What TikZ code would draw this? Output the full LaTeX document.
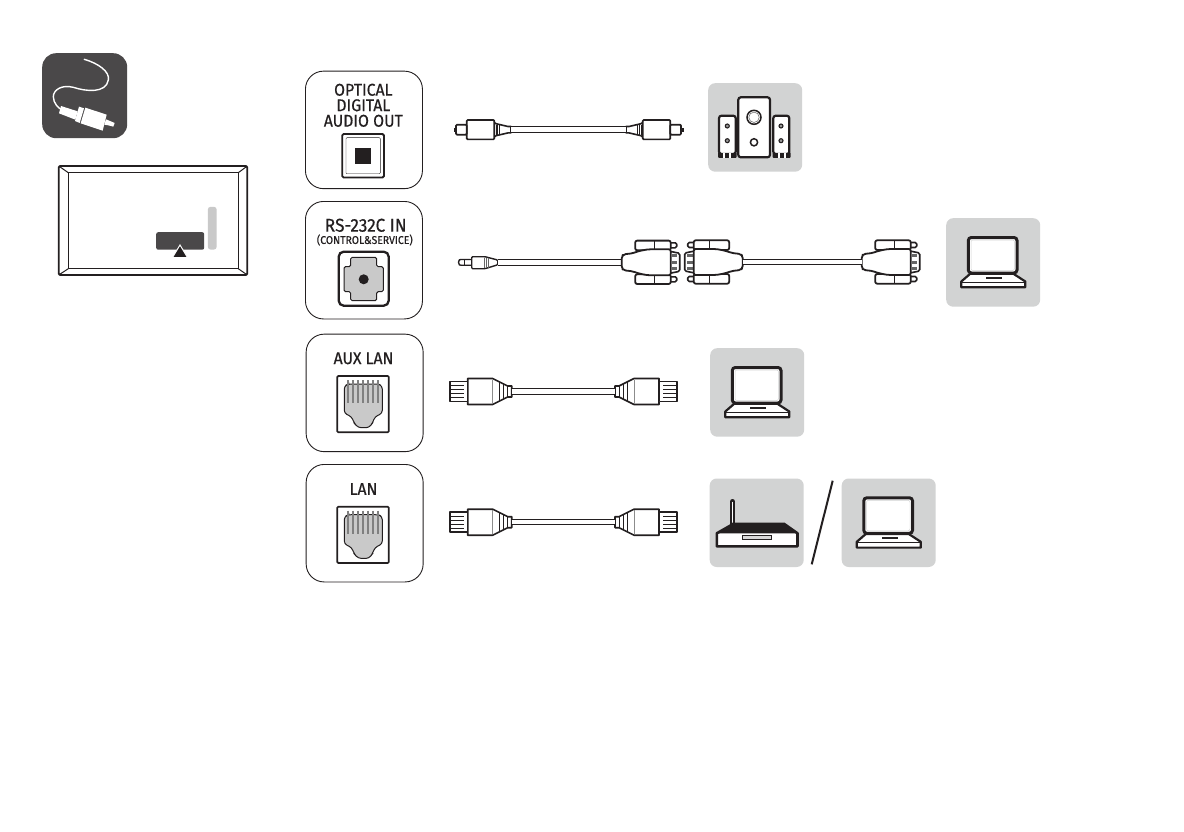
\documentclass[tikz,border=0pt]{standalone}
\usepackage{fontspec}
\setmainfont{Fira Sans}[FakeStretch=0.93,RawFeature={embolden=0.5}]
\definecolor{ink}{HTML}{231F20}
\definecolor{iconbg}{HTML}{4A4849}
\definecolor{panel}{HTML}{D2D3D3}
\definecolor{jack}{HTML}{C9C9C9}
\tikzset{
 x=1pt,y=-1pt,
 portbox/.style={draw=ink,line width=0.9pt,rounded corners=18pt,minimum width=117pt,minimum height=117.5pt,inner sep=0pt,anchor=north west},
 graybox/.style={fill=panel,rounded corners=7pt,minimum width=94pt,minimum height=88.5pt,inner sep=0pt,anchor=north west},
 lbl/.style={inner sep=0pt,text=ink,align=center,anchor=center},
 wire/.style={draw=ink,line width=1pt,double=white,double distance=4.4pt},
 plug/.style={draw=ink,line width=1.6pt,fill=white,line join=round},
 rj/.pic={
  \draw[ink,line width=1.7pt,fill=white,rounded corners=1pt] (0,0) rectangle (51.4,56.3);
  \draw[draw=ink,line width=1pt,fill=jack,rounded corners=3pt] (7,10) -- (7,37.3) -- (14.3,40.7) -- (17,47.3) -- (21,51.7) -- (31.7,51.7) -- (35,47.3) -- (37.7,40.7) -- (45,37.3) -- (45,10) -- (41,8) -- (11,8) -- cycle;
  \foreach \k in {11,16,21,26,31,36,41}{\draw[draw=black!50,line width=2.3pt] (\k,4) -- (\k,27);}
 },
 laptop/.pic={
  \draw[ink,line width=3pt,fill=white,rounded corners=3pt] (22.3,19.5) rectangle (71,55);
  \draw[panel,line width=0.5pt,rounded corners=2pt] (25,22) rectangle (68.5,52.5);
  \draw[ink,line width=2.2pt,fill=white,line join=round] (24.3,55.7) -- (67.3,55.7) -- (79.3,63.5) -- (79.3,69.3) -- (15.3,69.3) -- (15.3,63.5) -- cycle;
  \draw[ink,line width=1.2pt] (15.5,64.5) -- (79,64.5);
  \fill[ink] (24.5,55) rectangle (67,57);
  \fill[ink] (40.3,58.9) rectangle (56,61);
 },
 router/.pic={
  \draw[ink,line width=4.6pt,line cap=round] (23,23) -- (23,45);
  \draw[white,line width=1pt,line cap=round] (23,24) -- (23,44);
  \draw[ink,line width=2.6pt,fill=white,line join=round] (24,45.5) -- (74.5,45.5) -- (88,55) -- (88,68) -- (7.3,68) -- (7.3,55) -- cycle;
  \fill[ink] (24,45) -- (74.5,45) -- (88,55) -- (7.3,55) -- cycle;
  \draw[ink,line width=0.9pt,fill=white!85!black] (33,57.6) rectangle (62.3,61.2);
 },
 opticalplug/.pic={
  \draw[plug] (-15,-6) -- (-3,-3.2) -- (0,-3.2) -- (0,3.2) -- (-3,3.2) -- (-15,6) -- (-17,7.5) -- (-17,-7.5) -- cycle;
  \foreach \k in {-15,-13.2,-11.4}{\draw[ink,line width=0.7pt] (\k,-5) -- (\k,5);}
  \draw[plug,line width=1.7pt,rounded corners=1pt] (-16.7,-9.7) rectangle (-44.3,9.7);
  \draw[plug,line width=1.7pt,rounded corners=1pt] (-44.3,-5) rectangle (-55,5);
  \fill[ink] (-55,-2) rectangle (-57.5,2);
 },
 lanplug/.pic={
  \draw[plug] (0,-5.5) -- (-4,-5.5) -- (-19,-13) -- (-44,-13) -- (-44,13) -- (-19,13) -- (-4,5.5) -- (0,5.5) -- cycle;
  \draw[plug] (-44.3,-10) rectangle (-61.7,10);
  \foreach \k in {-6,-2,2,6}{\draw[ink,line width=0.7pt] (-48,\k) -- (-61.7,\k);}
  \draw[ink,line width=0.8pt] (-4,-5.5) -- (-4,5.5);
  \draw[ink,line width=0.8pt] (-8,-7.5) -- (-8,7.5);
  \draw[ink,line width=0.8pt] (-12,-9.5) -- (-12,9.5);
  \draw[black!45,line width=0.5pt] (-19,-12) -- (-19,12);
 },
 dsub/.pic={
  \draw[ink,line width=1.6pt,fill=white,rounded corners=1.5pt] (48,-11) -- (58,-9) -- (58,9) -- (48,11) -- cycle;
  \foreach \k in {-6.5,0,6.5}{\fill[black!60] (50,\k-1.5) rectangle (55.5,\k+1.5);}
  \draw[plug,rounded corners=1.5pt] (47,-19.5) rectangle (55,-14.5);
  \draw[plug,rounded corners=1.5pt] (47,19.5) rectangle (55,14.5);
  \draw[plug,line width=1.8pt,rounded corners=2pt] (13.5,-21.7) rectangle (49,-12);
  \draw[plug,line width=1.8pt,rounded corners=2pt] (13.5,21.7) rectangle (49,12);
  \draw[ink,line width=1pt] (33,-21.7) -- (33,-13);
  \draw[ink,line width=1pt] (33,21.7) -- (33,13);
  \draw[plug,line width=1.8pt,rounded corners=2pt] (0,-6) -- (2,-8) -- (11,-9) .. controls (16,-11) and (24,-13) .. (31,-13) -- (49,-13) -- (49,13) -- (31,13) .. controls (24,13) and (16,11) .. (11,9) -- (2,8) -- (0,6) -- cycle;
 }
}
\begin{document}
\begin{tikzpicture}
\useasboundingbox (0,0) rectangle (1184,832);
\fill[white] (0,0) rectangle (1184,832);

\node[fill=iconbg,rounded corners=14pt,minimum size=85pt,inner sep=0pt,anchor=north west] (icon) at (42,53) {};
\begin{scope}[shift={(30,40)},x=0.3333pt,y=-0.3333pt]
 \draw[white,line width=1.4pt,line cap=round] (163,58) .. controls (205,70) and (240,95) .. (235,120) .. controls (228,160) and (170,155) .. (130,142) .. controls (95,133) and (70,150) .. (70,170) .. controls (70,190) and (85,205) .. (100,212);
 \fill[white] (93,198) -- (143,214) -- (136,239) -- (87,220) -- cycle;
 \fill[white] (147,200) -- (162,205) -- (149,249) -- (135,243) -- cycle;
 \fill[white] (166,203) -- (230,224) -- (218,272) -- (152,250) -- cycle;
 \fill[white] (228,238) -- (240,243) -- (254,249) -- (250,260) -- (235,256) -- (223,254) -- cycle;
\end{scope}

\draw[ink,line width=1.8pt,rounded corners=1.5pt] (58.7,166) rectangle (247.3,275);
\draw[ink,line width=1.1pt] (68.3,172.7) rectangle (238.3,268.7);
\foreach \a/\b/\c/\d in {58.7/166/68.3/172.7,247.3/166/238.3/172.7,58.7/275/68.3/268.7,247.3/275/238.3/268.7}{\draw[ink,line width=1pt] (\a,\b) -- (\c,\d);}
\node[fill=iconbg,rounded corners=2pt,minimum width=48pt,minimum height=17.5pt,inner sep=0pt,anchor=north west] (slot) at (156,232) {};
\node[fill=jack,rounded corners=2.5pt,minimum width=8.7pt,minimum height=42.6pt,inner sep=0pt,anchor=north west] (bar) at (207.7,206.7) {};
\fill[ink,draw=white,line width=1pt] (180,245) -- (187.5,257.5) -- (172.5,257.5) -- cycle;

\node[portbox] (p1) at (305,70.7) {};
\node[portbox] (p2) at (305,201) {};
\node[portbox] (p3) at (305.7,333.7) {};
\node[portbox] (p4) at (305.7,464) {};

\node[lbl,font=\fontsize{17}{15.5}\selectfont] (t1) at (363.3,105.3) {OPTICAL\\DIGITAL\\AUDIO OUT};
\node[lbl,font=\fontsize{18.5}{18}\selectfont] (t2) at (365.7,225.3) {RS-232C IN};
\node[lbl,font=\fontsize{11.2}{11}\selectfont] (t2b) at (364.8,240) {(CONTROL\&SERVICE)};
\node[lbl,font=\fontsize{17}{16}\selectfont] (t3) at (363.5,358.3) {AUX LAN};
\node[lbl,font=\fontsize{17}{16}\selectfont] (t4) at (363.5,489) {LAN};

\draw[ink,line width=1.8pt,fill=white,rounded corners=1.5pt] (342.2,134) rectangle (384,177.5);
\draw[ink,line width=0.4pt,rounded corners=1pt] (346,137.7) rectangle (380.3,173.8);
\fill[ink] (355,148.3) rectangle (371,164.3);

\draw[ink,line width=2.3pt,fill=white,rounded corners=5pt] (338.7,251.7) rectangle (388.7,305.7);
\draw[ink,line width=1pt,fill=jack,rounded corners=1.5pt] (350.7,257.3) -- (376.7,257.3) -- (376.7,266.7) -- (383.3,266.7) -- (383.3,291.7) -- (376.7,291.7) -- (376.7,300.7) -- (350.7,300.7) -- (350.7,291.7) -- (344,291.7) -- (344,266.7) -- (350.7,266.7) -- cycle;
\fill[ink] (363.7,279.3) circle (5);

\pic (rj3) at (337.3,376) {rj};
\pic (rj4) at (337.3,506.7) {rj};

\pic (o1) at (511,129.7) {opticalplug};
\pic[xscale=-1] (o2) at (626,129.7) {opticalplug};
\coordinate (oa) at (511,129.7);
\coordinate (ob) at (626,129.7);
\draw[wire] (oa) -- (ob);

\coordinate (ja) at (497.7,262.3);
\coordinate (da) at (621.7,262.3);
\draw[plug,line width=1.4pt] (458.5,262.3) .. controls (458.5,259.5) and (460,259.5) .. (461,259.5) -- (471.7,259.5) -- (471.7,265.2) -- (461,265.2) .. controls (460,265.2) and (458.5,265.2) .. (458.5,262.3) -- cycle;
\draw[ink,line width=1pt] (464.5,259.5) -- (464.5,265.2);
\draw[plug,line width=1.4pt,rounded corners=1pt] (471.7,256.7) -- (485,256.7) -- (497.7,260) -- (497.7,264.8) -- (485,268.7) -- (471.7,268.7) -- cycle;
\foreach \k in {484,486,488}{\draw[black!60,line width=0.6pt] (\k,257.5) -- (\k,268);}
\draw[wire] (ja) -- (da);
\pic (d1) at (621.7,262.3) {dsub};

\pic[xscale=-1] (d2) at (742.7,262) {dsub};
\pic (d3) at (861.7,262) {dsub};
\coordinate (db) at (742.7,262);
\coordinate (dc) at (861.7,262);
\draw[wire] (db) -- (dc);

\pic (l1) at (511.7,391.5) {lanplug};
\pic[xscale=-1] (l2) at (615,391.5) {lanplug};
\coordinate (la) at (511.7,391.5);
\coordinate (lb) at (615,391.5);
\draw[wire] (la) -- (lb);
\pic (l3) at (511.7,522.2) {lanplug};
\pic[xscale=-1] (l4) at (615,522.2) {lanplug};
\coordinate (lc) at (511.7,522.2);
\coordinate (ld) at (615,522.2);
\draw[wire] (lc) -- (ld);

\node[graybox] (dev1) at (708,83) {};
\begin{scope}[shift={(708,83)}]
 \draw[ink,line width=2.2pt,fill=white,rounded corners=2.5pt] (30.3,14.3) rectangle (62,74.3);
 \draw[ink,line width=1.5pt] (46,34.3) circle (7);
 \draw[black!55,line width=0.6pt] (46,34.3) circle (5.2);
 \draw[ink,line width=1.5pt] (46,59.3) circle (3.6);
 \fill[ink,rounded corners=1pt] (10,69) rectangle (28.5,75);
 \fill[ink,rounded corners=1pt] (64.5,69) rectangle (82.5,75);
 \draw[ink,line width=2.2pt,fill=white,rounded corners=2.5pt] (11,32.7) rectangle (27.7,71);
 \draw[ink,line width=2.2pt,fill=white,rounded corners=2.5pt] (65.3,32.7) rectangle (81.3,71);
 \foreach \px/\py in {19.3/43,19.3/57.7,73/43,73/57.7}{\draw[ink,line width=1.1pt,fill=black!40] (\px,\py) circle (2);}
 \fill[white] (15,70) rectangle (17,75);
 \fill[white] (21,70) rectangle (23,75);
 \fill[white] (70,70) rectangle (72,75);
 \fill[white] (76,70) rectangle (78,75);
\end{scope}

\node[graybox] (dev2) at (946,218) {};
\pic (lp2) at (946,218) {laptop};
\node[graybox] (dev3) at (710,348) {};
\pic (lp3) at (710,348) {laptop};
\node[graybox] (dev4) at (709.5,478.3) {};
\pic (rt) at (709.5,478.3) {router};
\node[graybox] (dev5) at (841.5,478.3) {};
\pic (lp5) at (841.5,478.3) {laptop};
\draw[ink,line width=2pt] (832.7,480.7) -- (811.7,564.3);
\end{tikzpicture}
\end{document}
